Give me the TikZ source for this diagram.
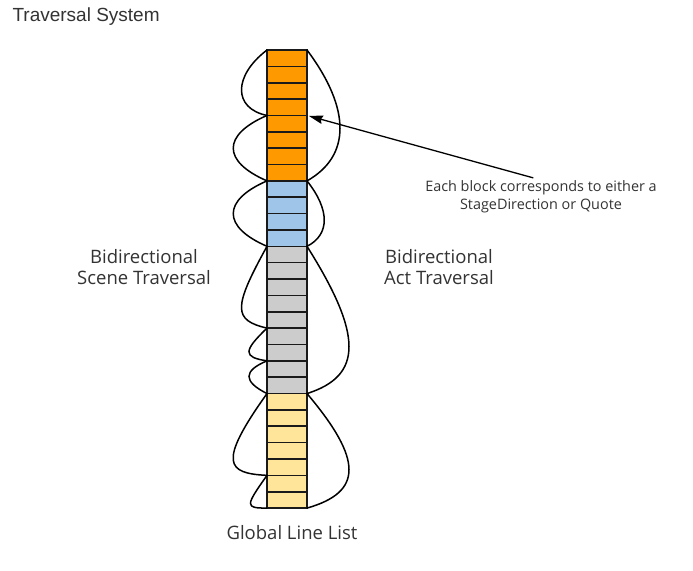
\documentclass[tikz,border=0pt]{standalone}
\usepackage{fontspec}
\setmainfont{Open Sans}
\newfontfamily\titlefont{Liberation Sans}
\usetikzlibrary{arrows.meta}
\definecolor{blockorange}{HTML}{FF9900}
\definecolor{blockblue}{HTML}{9FC5E8}
\definecolor{blockgray}{HTML}{CCCCCC}
\definecolor{blockyellow}{HTML}{FFE599}
\definecolor{edgegray}{HTML}{1A1A1A}
\definecolor{textgray}{HTML}{333333}
\tikzstyle{cell} = [draw=edgegray, line width=1.6pt, minimum width=40pt, minimum height=16.36pt, inner sep=0pt, outer sep=0pt]
\tikzstyle{label} = [align=center, text=textgray, font=\fontsize{18.5}{21.5}\selectfont]
\tikzstyle{note} = [align=center, text=textgray, inner sep=0pt, font=\fontsize{14.4}{18}\selectfont]
\tikzstyle{loop} = [line width=1.5pt, line cap=round]
\tikzstyle{arrow} = [->, >={Stealth[length=14pt, width=8.5pt, inset=1.5pt]}, line width=1.3pt]

\begin{document}
\begin{tikzpicture}[x=1pt, y=-1pt]
	\useasboundingbox (0,0) rectangle (693,570);
	\node (title)[anchor=west, font=\titlefont\fontsize{19}{22}\selectfont, text=textgray] at (9,17) {Traversal System};

	% the global line list
	\foreach \i in {1,...,8}
		\node (c\i)[cell, fill=blockorange] at (287, {50+16.36*(\i-0.5)}) {};
	\foreach \i in {9,...,12}
		\node (c\i)[cell, fill=blockblue] at (287, {50+16.36*(\i-0.5)}) {};
	\foreach \i in {13,...,21}
		\node (c\i)[cell, fill=blockgray] at (287, {50+16.36*(\i-0.5)}) {};
	\foreach \i in {22,...,28}
		\node (c\i)[cell, fill=blockyellow] at (287, {50+16.36*(\i-0.5)}) {};

	\node (scene)[label] at (144,267) {Bidirectional\\Scene Traversal};
	\node (act)[label] at (439,267) {Bidirectional\\Act Traversal};
	\node (list)[label] at (292,533) {Global Line List};
	\node (note)[note, anchor=north] at (541,180) {Each block corresponds to either a\\StageDirection or Quote};

	% scene traversal (left)
	\draw [loop] (c1.north west) .. controls +(-34,26) and +(-34,-7) .. (c5.north west);
	\draw [loop] (c5.north west) .. controls +(-45,19.5) and +(-45,-19.5) .. (c9.north west);
	\draw [loop] (c9.north west) .. controls +(-45,19.5) and +(-45,-19.5) .. (c13.north west);
	\draw [loop] (c13.north west) .. controls +(-34,61.5) and +(-34,-8) .. (c18.north west);
	\draw [loop] (c18.north west) .. controls +(-24,23) and +(-24,-3.6) .. (c20.north west);
	\draw [loop] (c20.north west) .. controls +(-24,10) and +(-24,-12) .. (c22.north west);
	\draw [loop] (c22.north west) .. controls +(-50,70) and +(-40,-2) .. (c27.north west);
	\draw [loop] (c27.north west) .. controls +(-22,31) and +(-22,0) .. (c28.south west);

	% act traversal (right)
	\draw [loop] (c1.north east) .. controls +(44,58.8) and +(44,-24.8) .. (c9.north east);
	\draw [loop] (c9.north east) .. controls +(23,29) and +(23,-11.7) .. (c13.north east);
	\draw [loop] (c13.north east) .. controls +(56,88.8) and +(56,-17.8) .. (c22.north east);
	\draw [loop] (c22.north east) .. controls +(56,66.3) and +(56,-16) .. (c28.south east);

	\draw [arrow, shorten >=2pt, shorten <=8pt] (note.north) -- (c5.north east);
\end{tikzpicture}
\end{document}
